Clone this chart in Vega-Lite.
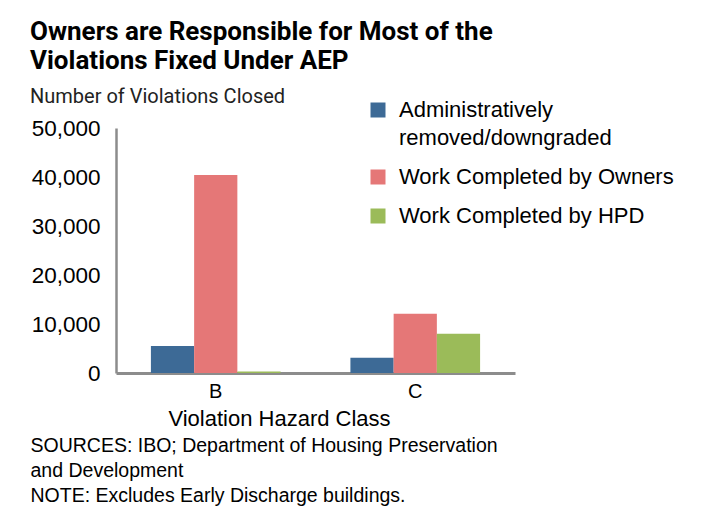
{
  "$schema": "https://vega.github.io/schema/vega-lite/v6.json",
  "width": 399,
  "height": 245,
  "autosize": {"type": "none"},
  "padding": {"left": 116, "top": 128, "right": 192, "bottom": 143},
  "background": "white",
  "title": {
    "text": ["Owners are Responsible for Most of the", "Violations Fixed Under AEP"],
    "subtitle": "Number of Violations Closed",
    "anchor": "start",
    "frame": "group",
    "dx": -86,
    "font": "Roboto",
    "fontSize": 26,
    "fontWeight": "bold",
    "color": "black",
    "lineHeight": 29,
    "subtitleFont": "Roboto",
    "subtitleFontSize": 20,
    "subtitleColor": "#222222",
    "subtitlePadding": 13,
    "offset": -8
  },
  "config": {"view": {"stroke": null}, "style": {"guide-label": {"lineHeight": 28}}},
  "data": {
    "values": [
      {"cls": "B", "type": "Administratively removed/downgraded", "count": 5500},
      {"cls": "B", "type": "Work Completed by Owners", "count": 40400},
      {"cls": "B", "type": "Work Completed by HPD", "count": 300},
      {"cls": "C", "type": "Administratively removed/downgraded", "count": 3100},
      {"cls": "C", "type": "Work Completed by Owners", "count": 12100},
      {"cls": "C", "type": "Work Completed by HPD", "count": 8000}
    ]
  },
  "layer": [
    {
      "mark": {"type": "bar"},
      "encoding": {
        "x": {
          "field": "cls",
          "type": "nominal",
          "scale": {"paddingInner": 0.35, "paddingOuter": 0.175},
          "axis": {
            "orient": "bottom",
            "labelAngle": 0,
            "ticks": false,
            "labelFont": "Liberation Sans",
            "labelFontSize": 20,
            "labelColor": "black",
            "labelPadding": 8,
            "domainColor": "#8c8c8c",
            "domainWidth": 3,
            "title": "Violation Hazard Class",
            "titleFont": "Liberation Sans",
            "titleFontSize": 22,
            "titleFontWeight": "normal",
            "titleColor": "black",
            "titleX": 163,
            "titleY": 35,
            "titleBaseline": "top"
          }
        },
        "xOffset": {
          "field": "type",
          "sort": ["Administratively removed/downgraded", "Work Completed by Owners", "Work Completed by HPD"]
        },
        "y": {
          "field": "count",
          "type": "quantitative",
          "scale": {"domain": [0, 50000]},
          "axis": {
            "values": [0, 10000, 20000, 30000, 40000, 50000],
            "format": ",.0f",
            "grid": false,
            "ticks": false,
            "labelFont": "Liberation Sans",
            "labelFontSize": 22.5,
            "labelColor": "black",
            "labelPadding": 16,
            "domainColor": "#8c8c8c",
            "domainWidth": 2.5,
            "title": null
          }
        },
        "color": {
          "field": "type",
          "type": "nominal",
          "scale": {
            "domain": ["Administratively removed/downgraded", "Work Completed by Owners", "Work Completed by HPD"],
            "range": ["#3D6A96", "#E57777", "#9BBB59"]
          },
          "legend": {
            "orient": "none",
            "legendX": 251,
            "legendY": -29,
            "title": null,
            "padding": 0,
            "symbolType": "square",
            "symbolSize": 225,
            "symbolStrokeWidth": 0,
            "labelFont": "Liberation Sans",
            "labelFontSize": 22,
            "labelColor": "black",
            "labelOffset": 10,
            "labelLimit": 400,
            "rowPadding": 17,
            "labelExpr": "datum.label == 'Administratively removed/downgraded' ? ['Administratively', 'removed/downgraded'] : datum.label == 'Work Completed by Owners' ? '\u00a0Work Completed by Owners' : datum.label"
          }
        }
      }
    },
    {
      "mark": {"type": "text", "text": ""},
      "encoding": {
        "x": {
          "field": "cls",
          "type": "nominal",
          "axis": {
            "orient": "bottom",
            "labels": false,
            "ticks": false,
            "domain": false,
            "title": ["SOURCES: IBO; Department of Housing Preservation", "and Development", "NOTE: Excludes Early Discharge buildings."],
            "titleFont": "Liberation Sans",
            "titleFontSize": 19.5,
            "titleFontWeight": "normal",
            "titleColor": "black",
            "titleAlign": "left",
            "titleX": -86,
            "titleY": 63,
            "titleBaseline": "top",
            "titleLineHeight": 25
          }
        }
      }
    }
  ],
  "resolve": {"axis": {"x": "independent"}}
}
